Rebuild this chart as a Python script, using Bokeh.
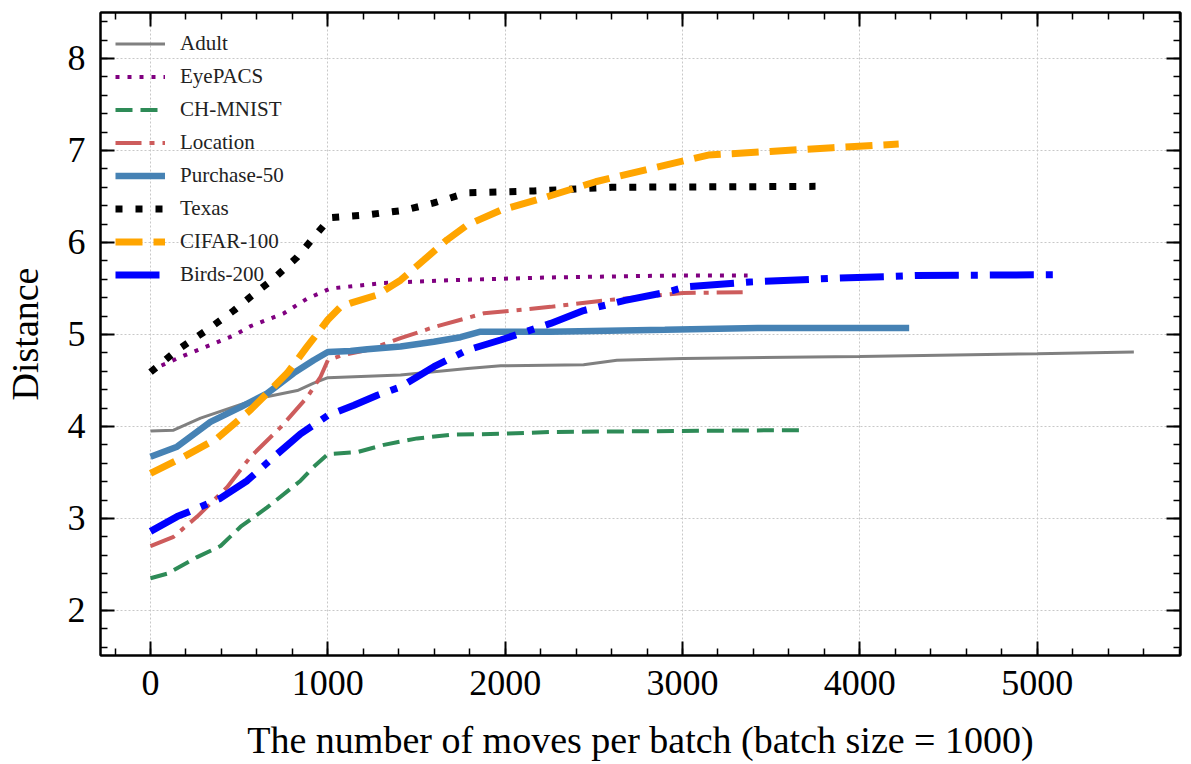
from bokeh.plotting import figure
from bokeh.models import LinearAxis, FixedTicker, Range1d, CustomLabelingPolicy
from bokeh.embed import file_html
from bokeh.resources import INLINE

# ---- data ----
adult_x = [0, 130, 282, 620, 828, 920, 1000, 1410, 1788, 1975, 2442, 2630, 3003, 4000, 5000, 5545]
adult_y = [3.95, 3.96, 4.09, 4.31, 4.39, 4.47, 4.53, 4.56, 4.63, 4.66, 4.67, 4.72, 4.74, 4.76, 4.79, 4.81]

eyepacs_x = [0, 188, 470, 564, 752, 884, 1015, 1316, 1692, 2256, 2910, 3367]
eyepacs_y = [4.61, 4.77, 4.99, 5.09, 5.23, 5.39, 5.50, 5.56, 5.59, 5.62, 5.64, 5.64]

chmnist_x = [0, 94, 263, 395, 508, 658, 846, 920, 1000, 1165, 1316, 1504, 1692, 1974, 2256, 3610, 3683]
chmnist_y = [2.35, 2.40, 2.58, 2.70, 2.91, 3.12, 3.41, 3.56, 3.70, 3.72, 3.80, 3.87, 3.91, 3.92, 3.94, 3.96, 3.96]

location_x = [0, 130, 263, 432, 564, 733, 884, 959, 1000, 1072, 1222, 1410, 1598, 1880, 2256, 2558, 3003, 3343]
location_y = [2.70, 2.80, 3.02, 3.34, 3.67, 3.99, 4.32, 4.54, 4.72, 4.77, 4.83, 4.96, 5.08, 5.23, 5.30, 5.37, 5.45, 5.46]

purchase_x = [0, 150, 338, 508, 658, 808, 920, 1000, 1128, 1222, 1410, 1598, 1748, 1861, 2256, 2900, 3424, 4278]
purchase_y = [3.67, 3.78, 4.05, 4.21, 4.36, 4.58, 4.72, 4.81, 4.82, 4.84, 4.87, 4.92, 4.97, 5.03, 5.03, 5.05, 5.07, 5.07]

texas_x = [0, 150, 320, 470, 564, 696, 827, 940, 1015, 1222, 1429, 1598, 1786, 2162, 2600, 3750]
texas_y = [4.59, 4.83, 5.05, 5.26, 5.41, 5.61, 5.84, 6.10, 6.27, 6.30, 6.35, 6.43, 6.54, 6.56, 6.60, 6.61]

cifar_x = [0, 188, 376, 564, 771, 884, 1000, 1072, 1128, 1279, 1410, 1542, 1673, 1786, 1974, 2208, 2510, 2792, 3145, 3495, 3846, 4219]
cifar_y = [3.49, 3.67, 3.87, 4.18, 4.58, 4.87, 5.16, 5.30, 5.34, 5.43, 5.59, 5.81, 6.03, 6.19, 6.35, 6.48, 6.66, 6.79, 6.95, 6.99, 7.03, 7.07]

birds_x = [0, 150, 263, 395, 545, 696, 846, 1000, 1147, 1279, 1410, 1598, 1786, 1974, 2256, 2442, 2676, 2910, 3027, 3378, 3846, 4315, 5099]
birds_y = [2.86, 3.02, 3.11, 3.22, 3.41, 3.67, 3.92, 4.12, 4.23, 4.34, 4.43, 4.65, 4.83, 4.94, 5.12, 5.26, 5.37, 5.46, 5.52, 5.57, 5.61, 5.64, 5.65]

x_major = [0, 1000, 2000, 3000, 4000, 5000]
y_major = [2, 3, 4, 5, 6, 7, 8]
x_label = "The number of moves per batch (batch size = 1000)"
y_label = "Distance"

FONT = "Liberation Serif"

p = figure(width=1191, height=764, output_backend="svg", toolbar_location=None,
           x_range=Range1d(-282, 5808), y_range=Range1d(1.51, 8.5),
           min_border_left=100, min_border_right=11, min_border_top=12, min_border_bottom=109,
           x_axis_label=x_label, y_axis_label=y_label)
p.background_fill_color = "white"
p.border_fill_color = "white"
p.outline_line_color = "black"
p.outline_line_width = 2

x_minor = [v * 200 for v in range(-1, 30)]
y_minor = [v / 5 for v in range(8, 43)]
xt = FixedTicker(ticks=x_major, minor_ticks=x_minor)
yt = FixedTicker(ticks=y_major, minor_ticks=y_minor)

hide = CustomLabelingPolicy(code="""
    const r = (typeof indices.clone === "function") ? indices.clone() : indices;
    for (const i of [...indices]) { r.unset(i); }
    return r;
""")

p.add_layout(LinearAxis(major_label_policy=hide), "above")
p.add_layout(LinearAxis(major_label_policy=hide), "right")

bottom_ax = p.below[0]
left_ax = p.left[0]
top_ax = p.above[0]
right_ax = p.right[0]

for ax in [bottom_ax, top_ax]:
    ax.ticker = xt
for ax in [left_ax, right_ax]:
    ax.ticker = yt

for ax in [bottom_ax, left_ax, top_ax, right_ax]:
    ax.major_tick_in = 14
    ax.major_tick_out = 0
    ax.minor_tick_in = 7
    ax.minor_tick_out = 0
    ax.major_tick_line_width = 2
    ax.minor_tick_line_width = 1.5
    ax.axis_line_width = 2
    ax.axis_line_color = "black"
    ax.major_tick_line_color = "black"
    ax.minor_tick_line_color = "black"
    ax.major_label_text_font = FONT
    ax.major_label_text_font_size = "36px"
    ax.major_label_text_color = "black"
    ax.axis_label_text_font = FONT
    ax.axis_label_text_font_size = "38px"
    ax.axis_label_text_font_style = "normal"
    ax.axis_label_text_color = "black"

bottom_ax.major_label_standoff = 15
bottom_ax.axis_label_standoff = 21
left_ax.major_label_standoff = 15
left_ax.axis_label_standoff = 19

for ax in [top_ax, right_ax]:
    ax.major_label_text_font_size = "0px"
    ax.major_label_standoff = 0
    ax.axis_label_standoff = 0
    ax.axis_label = None

p.xgrid.ticker = xt
p.ygrid.ticker = yt
for g in [p.xgrid[0], p.ygrid[0]]:
    g.grid_line_color = "#c8c8c8"
    g.grid_line_dash = "2 2"
    g.grid_line_width = 1

p.line(adult_x, adult_y, color="#808080", line_width=3, legend_label="Adult")
p.line(eyepacs_x, eyepacs_y, color="#800080", line_width=4, line_dash="4 8", legend_label="EyePACS")
p.line(chmnist_x, chmnist_y, color="#2e8b57", line_width=4, line_dash="17 8", legend_label="CH-MNIST")
p.line(location_x, location_y, color="#cd5c5c", line_width=4, line_dash="26 8 5 8", legend_label="Location")
p.line(purchase_x, purchase_y, color="#4682b4", line_width=6.5, legend_label="Purchase-50")
p.line(texas_x, texas_y, color="black", line_width=7, line_dash="7 13", legend_label="Texas")
p.line(cifar_x, cifar_y, color="#ffa500", line_width=7, line_dash="27 11", legend_label="CIFAR-100")
p.line(birds_x, birds_y, color="#0000ff", line_width=7, line_dash="44 12 7 12", legend_label="Birds-200")

lg = p.legend[0]
lg.location = "top_left"
lg.margin = 2
lg.padding = 13
lg.spacing = 0
lg.glyph_width = 50
lg.glyph_height = 33
lg.label_height = 33
lg.label_standoff = 15
lg.label_text_font = FONT
lg.label_text_font_size = "21px"
lg.label_text_color = "#222222"
lg.background_fill_alpha = 0
lg.border_line_alpha = 0

open("out.html", "w").write(file_html(p, INLINE))
